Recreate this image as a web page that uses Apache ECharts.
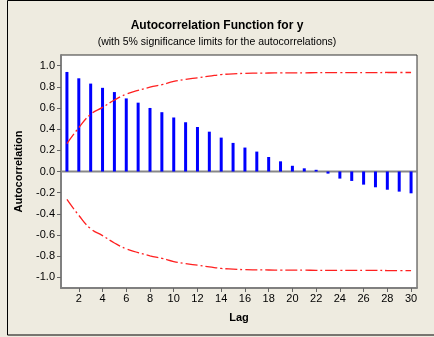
<!DOCTYPE html>
<html>
<head>
<meta charset="utf-8">
<script src="https://cdn.jsdelivr.net/npm/echarts@6/dist/echarts.min.js"></script>
<style>
html,body{margin:0;padding:0;background:#eeebe0;}
#c{width:434px;height:337px;}
</style>
</head>
<body>
<div id="c"></div>
<script>
var lags = [1,2,3,4,5,6,7,8,9,10,11,12,13,14,15,16,17,18,19,20,21,22,23,24,25,26,27,28,29,30];
var acf = [0.94,0.88,0.83,0.79,0.75,0.69,0.65,0.60,0.56,0.51,0.465,0.42,0.376,0.32,0.27,0.226,0.188,0.137,0.096,0.054,0.03,0.016,-0.02,-0.067,-0.089,-0.124,-0.149,-0.172,-0.19,-0.206];
var upperLimit = [0.264,0.414,0.54,0.605,0.675,0.73,0.765,0.796,0.82,0.85,0.87,0.885,0.90,0.915,0.922,0.927,0.929,0.930,0.931,0.932,0.932,0.933,0.933,0.933,0.934,0.934,0.934,0.935,0.935,0.935];
var xTicks = [2,4,6,8,10,12,14,16,18,20,22,24,26,28,30];
var yTicks = [-1.0,-0.8,-0.6,-0.4,-0.2,0.0,0.2,0.4,0.6,0.8,1.0];
var xRange = [0.5, 30.5];

var chart = echarts.init(document.getElementById('c'));
var font = 'Liberation Sans, Noto Sans, sans-serif';
var barData = lags.map(function(l,i){return [l, acf[i]];});
var upData = lags.map(function(l,i){return [l, upperLimit[i]];});
var loData = lags.map(function(l,i){return [l, -upperLimit[i]];});
var zeroData = [[xRange[0], 0], [xRange[1], 0]];
var dash = [12,3,2,3];

chart.setOption({
  backgroundColor: '#eeebe0',
  animation: false,
  title: [
    {text: 'Autocorrelation Function for y', left: 'center', top: 15,
     textStyle: {fontFamily: font, fontSize: 12, fontWeight: 'bold', color: '#000'}},
    {text: '(with 5% significance limits for the autocorrelations)', left: 'center', top: 32,
     textStyle: {fontFamily: font, fontSize: 10.5, fontWeight: 'normal', color: '#000'}}
  ],
  graphic: [
    {type: 'rect', shape: {x: 7.5, y: 0.5, width: 440, height: 334.5}, silent: true, z: -10,
     style: {fill: 'none', stroke: '#000', lineWidth: 1}}
  ],
  grid: {left: 61, top: 55, width: 356, height: 233, show: true, backgroundColor: '#fff',
         borderColor: '#333', borderWidth: 1},
  xAxis: {
    type: 'value', min: xRange[0], max: xRange[1],
    name: 'Lag', nameLocation: 'middle', nameGap: 24,
    nameTextStyle: {fontFamily: font, fontSize: 11, fontWeight: 'bold', color: '#000'},
    axisLine: {show: true, onZero: false, lineStyle: {color: '#808080', width: 2}},
    axisTick: {show: true, length: 4, customValues: xTicks, lineStyle: {color: '#666'}},
    axisLabel: {customValues: xTicks, fontFamily: font, fontSize: 11, color: '#000', margin: 5},
    splitLine: {show: false}
  },
  yAxis: {
    type: 'value', min: -1.1, max: 1.1,
    name: 'Autocorrelation', nameLocation: 'middle', nameGap: 37,
    nameTextStyle: {fontFamily: font, fontSize: 11, fontWeight: 'bold', color: '#000'},
    axisLine: {show: true, onZero: false, lineStyle: {color: '#808080', width: 2}},
    axisTick: {show: true, length: 4, customValues: yTicks, lineStyle: {color: '#666'}},
    axisLabel: {customValues: yTicks, fontFamily: font, fontSize: 11, color: '#000', margin: 6,
                formatter: function(v){return v.toFixed(1);}},
    splitLine: {show: false}
  },
  series: [
    {type: 'line', data: zeroData, symbol: 'none', z: 2, silent: true,
     lineStyle: {color: '#888', width: 2, type: 'solid'}},
    {type: 'bar', data: barData, barWidth: 3, itemStyle: {color: '#0000ff'}, z: 3},
    {type: 'line', data: upData, symbol: 'none', smooth: true, z: 4,
     lineStyle: {color: '#ff2020', width: 1.3, type: dash}},
    {type: 'line', data: loData, symbol: 'none', smooth: true, z: 4,
     lineStyle: {color: '#ff2020', width: 1.3, type: dash}}
  ]
});
</script>
</body>
</html>
